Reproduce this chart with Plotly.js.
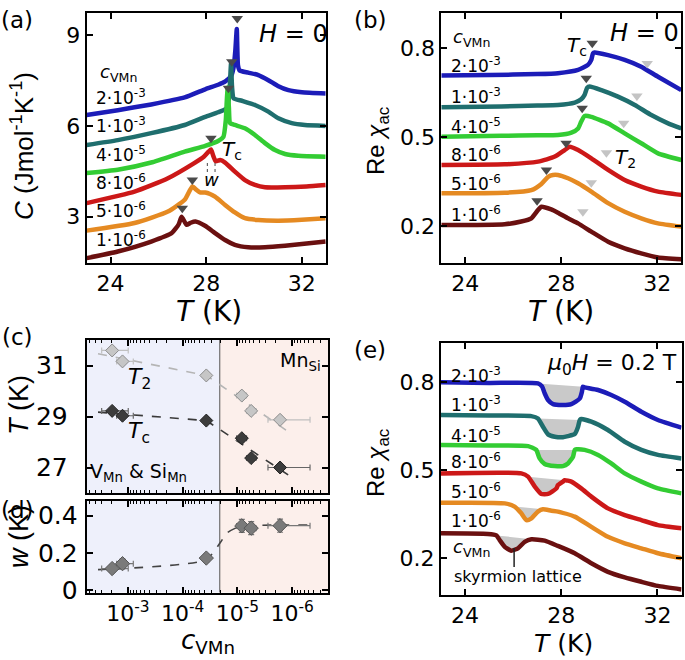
<!DOCTYPE html>
<html><head><meta charset="utf-8">
<script src="https://cdn.plot.ly/plotly-3.0.1.min.js"></script>
<style>html,body{margin:0;padding:0;background:#fff}#plot{width:685px;height:660px}</style>
</head><body><div id="plot"></div><script>
const FONT = 'DejaVu Sans, Liberation Sans, Arial, sans-serif';
const FONTR = 'Liberation Sans, Arial, Helvetica, sans-serif';

// ---------- series meta ----------
const seriesLabels = ['2·10<sup>-3</sup>','1·10<sup>-3</sup>','4·10<sup>-5</sup>','8·10<sup>-6</sup>','5·10<sup>-6</sup>','1·10<sup>-6</sup>'];
const seriesColors = ['#1c1cb8','#1f6e6e','#33cc33','#cc1818','#e58a22','#6a1010'];

// ---------- panel (a): specific heat C (J/mol K), H = 0 ----------
const aT0 = [23.0,24.3,25.7,27.1,27.96,28.5,28.8,29.05,29.15,29.22,29.28,29.33,29.4,29.76,30.18,30.6,31.0,31.44,32.0,33.0];
const aC0 = [6.36,6.52,6.71,6.94,7.21,7.36,7.47,7.66,7.95,8.5,9.2,8.0,7.83,7.76,7.68,7.51,7.32,7.18,7.11,7.07];
const aT1 = [23.0,24.3,25.7,27.1,27.96,28.5,28.85,28.95,29.0,29.04,29.08,29.15,29.49,30.04,30.6,31.02,31.58,32.13,33.0];
const aC1 = [5.37,5.53,5.76,6.03,6.30,6.45,6.58,6.9,7.5,8.07,7.3,6.91,6.83,6.69,6.47,6.25,6.09,6.03,6.0];
const aT2 = [23.0,24.3,25.7,27.1,27.96,28.5,28.72,28.82,28.86,28.9,28.95,29.0,29.2,29.62,30.04,30.46,30.88,31.3,31.85,33.0];
const aC2 = [4.44,4.55,4.79,5.15,5.34,5.5,5.64,6.19,6.8,7.27,6.6,6.09,6.03,5.92,5.70,5.43,5.20,5.07,5.01,4.98];
const aT3 = [23.0,25.0,26.4,27.5,27.9,28.1,28.2,28.3,28.4,28.58,28.79,29.2,29.62,30.04,30.46,31.3,32.2,33.0];
const aC3 = [3.45,3.83,4.27,4.77,4.98,5.15,5.22,5.0,4.83,4.87,4.79,4.49,4.21,4.05,3.97,3.97,4.0,4.05];
const aT4 = [23.0,25.0,26.4,27.1,27.42,27.6,27.74,27.96,28.16,28.37,28.79,29.2,29.62,30.18,31.02,32.0,33.0];
const aC4 = [2.54,2.79,3.17,3.56,4.0,3.88,3.80,3.80,3.75,3.66,3.39,3.14,2.95,2.89,2.87,2.9,2.95];
const aT5 = [23.0,24.3,25.7,26.56,26.85,26.97,27.18,27.35,27.55,27.95,28.37,28.79,29.2,29.76,30.46,31.3,33.0];
const aC5 = [1.63,1.85,2.18,2.46,2.75,3.0,2.73,2.8,2.84,2.7,2.46,2.23,2.07,1.99,1.99,2.04,2.18];
const aTcT = [29.3,29.07,28.93,28.2,27.42,27.0];
const aTcY = [9.55,8.12,7.24,5.59,4.21,3.28];
const wMarkT = [28.05,28.37];
const wMarkC = [4.48,4.87];

// ---------- panel (b): Re chi_ac, H = 0 ----------
const bT0 = [23.0,25.0,27.0,27.86,28.7,29.11,29.25,29.32,29.39,29.95,30.64,31.33,32.03,33.0];
const bX0 = [0.707,0.709,0.712,0.715,0.726,0.743,0.760,0.782,0.785,0.776,0.760,0.737,0.703,0.658];
const bT1 = [23.0,25.5,27.0,27.86,28.56,28.83,28.97,29.08,29.18,29.67,30.36,31.06,31.75,32.45,33.0];
const bX1 = [0.600,0.603,0.606,0.608,0.616,0.627,0.642,0.666,0.670,0.658,0.636,0.608,0.574,0.546,0.529];
const bT2 = [23.0,25.5,27.0,27.86,28.42,28.7,28.83,28.97,29.25,29.95,30.64,31.33,32.03,33.0];
const bX2 = [0.501,0.504,0.506,0.507,0.515,0.529,0.552,0.571,0.568,0.546,0.512,0.479,0.445,0.4225];
const bT3 = [23.0,25.64,27.03,27.73,28.14,28.35,28.7,29.25,29.95,30.64,31.33,32.03,33.0];
const bX3 = [0.406,0.408,0.417,0.434,0.456,0.467,0.456,0.428,0.389,0.355,0.333,0.316,0.305];
const bT4 = [23.0,25.64,26.75,27.17,27.45,27.65,27.86,28.28,28.7,29.25,29.95,30.64,31.33,32.03,33.0];
const bX4 = [0.310,0.312,0.321,0.342,0.366,0.372,0.372,0.361,0.344,0.316,0.277,0.248,0.226,0.209,0.198];
const bT5 = [23.0,25.64,26.33,26.75,27.03,27.17,27.58,27.86,28.28,28.7,29.25,29.95,30.64,31.33,32.03,33.0];
const bX5 = [0.203,0.206,0.215,0.226,0.254,0.265,0.256,0.245,0.226,0.209,0.181,0.147,0.125,0.108,0.094,0.088];
const bTcT = [29.29,29.04,28.87,28.2,27.38,26.99];
const bTcY = [0.816,0.698,0.597,0.479,0.389,0.285];
const bT2T = [31.58,31.15,30.6,29.88,29.25,28.9];
const bT2Y = [0.748,0.638,0.546,0.447,0.346,0.248];

// ---------- panel (e): Re chi_ac, mu0H = 0.2 T ----------
const eT0 = [23.0,25.0,27.03,27.2,27.31,27.45,27.66,28.07,28.42,28.77,28.86,28.9,28.97,29.53,30.08,30.64,31.33,32.02,33.0];
const eX0 = [0.799,0.797,0.7955,0.785,0.762,0.739,0.725,0.722,0.725,0.744,0.767,0.784,0.782,0.773,0.756,0.733,0.699,0.671,0.645];
const eT1 = [23.0,25.0,26.75,27.03,27.24,27.45,27.73,28.07,28.28,28.56,28.7,28.77,28.83,29.25,29.94,30.64,31.33,32.02,33.0];
const eX1 = [0.688,0.686,0.684,0.676,0.648,0.622,0.614,0.612,0.616,0.623,0.648,0.671,0.674,0.665,0.637,0.597,0.569,0.552,0.540];
const eT2 = [23.0,25.0,26.62,26.96,27.1,27.31,27.73,28.07,28.28,28.49,28.56,28.63,28.97,29.53,30.08,30.64,31.33,32.02,33.0];
const eX2 = [0.586,0.584,0.582,0.569,0.540,0.521,0.514,0.514,0.523,0.546,0.569,0.571,0.569,0.552,0.523,0.489,0.461,0.438,0.421];
const eT3 = [23.0,26.34,26.62,26.9,27.17,27.45,27.8,27.86,28.07,28.14,28.42,28.83,29.25,29.94,30.64,31.33,32.02,33.0];
const eX3 = [0.489,0.489,0.478,0.444,0.419,0.419,0.438,0.449,0.461,0.466,0.461,0.438,0.410,0.370,0.347,0.330,0.313,0.302];
const eT4 = [23.0,25.65,26.06,26.34,26.55,26.76,27.03,27.24,27.59,27.86,28.56,29.25,29.94,30.64,31.33,32.02,33.0];
const eX4 = [0.389,0.387,0.376,0.353,0.330,0.336,0.359,0.367,0.362,0.359,0.342,0.307,0.273,0.251,0.234,0.217,0.200];
const eT5 = [23.0,24.95,25.3,25.44,25.65,25.92,26.2,26.48,26.76,27.31,27.86,28.56,29.25,29.94,30.64,31.33,32.02,33.0];
const eX5 = [0.285,0.283,0.278,0.262,0.239,0.226,0.234,0.256,0.265,0.260,0.242,0.217,0.183,0.154,0.135,0.120,0.106,0.094];
const eFillFrom = [27.03,27.03,26.96,26.62,26.06,25.3];
const eFillTo   = [28.9,28.77,28.56,28.14,27.24,26.76];
const skxMarkT = [26.04,26.04];
const skxMarkX = [0.170,0.235];

// ---------- panels (c),(d): vs c_VMn ----------
const cVMn   = [1.95e-3,1.26e-3,3.7e-5,8.3e-6,5.6e-6,1.66e-6];
const cErrP  = [1.08e-3,0.35e-3,0,2.0e-6,1.16e-6,1.1e-6];
const cErrM  = [0.96e-3,0.46e-3,0,1.5e-6,1.03e-6,1.19e-6];
const T2vals = [31.59,31.16,30.61,29.82,29.22,28.87];
const Tcvals = [29.22,29.03,28.84,28.15,27.37,27.0];
const wVals  = [0.117,0.143,0.173,0.345,0.333,0.346];
const wErr   = [0.02,0.025,0.02,0.035,0.035,0.035];
const fitC   = [3.53e-3,3.7e-5,1.18e-6];
const fitT2  = [31.46,30.61,28.41];
const fitTc  = [29.17,28.84,26.71];
const wFitC  = [3.53e-3,3.75e-5,2.08e-5,1.57e-5,1.03e-5,7.9e-6,4.7e-7];
const wFitW  = [0.111,0.164,0.253,0.306,0.336,0.345,0.350];
const cBoundary = 2.1e-5;

// ---------- build ----------
const traces = [];
function curve(T, Y, color, xa, ya) {
  traces.push({x:T, y:Y, xaxis:xa, yaxis:ya, type:'scatter', mode:'lines',
    line:{color:color, width:4.5, shape:'spline', smoothing:0.5}, hoverinfo:'skip'});
}
function tri(T, Y, color, xa, ya) {
  traces.push({x:T, y:Y, xaxis:xa, yaxis:ya, type:'scatter', mode:'markers',
    marker:{symbol:'triangle-down', size:10, color:color, line:{width:0}}, hoverinfo:'skip'});
}

// panel (c)/(d) backgrounds
const bgLeft = 1e-2, bgRight = 1e-7;
[['x3','y3',25,33],['x4','y4',-0.1,0.6]].forEach(([xa,ya,lo,hi])=>{
  traces.push({x:[bgLeft,cBoundary,cBoundary,bgLeft], y:[lo,lo,hi,hi], xaxis:xa, yaxis:ya, mode:'lines',
    fill:'toself', fillcolor:'#eef0fb', line:{width:0}, hoverinfo:'skip'});
  traces.push({x:[cBoundary,bgRight,bgRight,cBoundary], y:[lo,lo,hi,hi], xaxis:xa, yaxis:ya, mode:'lines',
    fill:'toself', fillcolor:'#fcefeb', line:{width:0}, hoverinfo:'skip'});
  traces.push({x:[cBoundary,cBoundary], y:[lo,hi], xaxis:xa, yaxis:ya, mode:'lines',
    line:{color:'#555', width:1}, hoverinfo:'skip'});
});

// (a)
const aTs=[aT0,aT1,aT2,aT3,aT4,aT5], aCs=[aC0,aC1,aC2,aC3,aC4,aC5];
aTs.forEach((T,i)=>curve(T,aCs[i],seriesColors[i],'x','y'));
tri(aTcT,aTcY,'#4a4a4a','x','y');
wMarkT.forEach(t=>traces.push({x:[t,t],y:wMarkC,xaxis:'x',yaxis:'y',mode:'lines',line:{color:'#666',width:1.2,dash:'dot'},hoverinfo:'skip'}));

// (b)
const bTs=[bT0,bT1,bT2,bT3,bT4,bT5], bXs=[bX0,bX1,bX2,bX3,bX4,bX5];
bTs.forEach((T,i)=>curve(T,bXs[i],seriesColors[i],'x2','y2'));
tri(bTcT,bTcY,'#4a4a4a','x2','y2');
tri(bT2T,bT2Y,'#c4c4c4','x2','y2');

// (e)
const eTs=[eT0,eT1,eT2,eT3,eT4,eT5], eXs=[eX0,eX1,eX2,eX3,eX4,eX5];
eTs.forEach((T,i)=>{
  const fx=[], fy=[];
  T.forEach((t,j)=>{ if(t>=eFillFrom[i]-1e-9 && t<=eFillTo[i]+1e-9){fx.push(t);fy.push(eXs[i][j]);} });
  traces.push({x:fx,y:fy,xaxis:'x5',yaxis:'y5',mode:'lines',fill:'toself',fillcolor:'#c9c9c9',
    line:{width:0,shape:'spline',smoothing:0.5},hoverinfo:'skip'});
});
eTs.forEach((T,i)=>curve(T,eXs[i],seriesColors[i],'x5','y5'));
traces.push({x:skxMarkT,y:skxMarkX,xaxis:'x5',yaxis:'y5',mode:'lines',line:{color:'#222',width:1.5},hoverinfo:'skip'});

// (c)
traces.push({x:fitC,y:fitT2,xaxis:'x3',yaxis:'y3',mode:'lines',line:{color:'#b5b5b5',width:1.6,dash:'dash'},hoverinfo:'skip'});
traces.push({x:fitC,y:fitTc,xaxis:'x3',yaxis:'y3',mode:'lines',line:{color:'#3a3a3a',width:1.6,dash:'dash'},hoverinfo:'skip'});
traces.push({x:cVMn,y:T2vals,xaxis:'x3',yaxis:'y3',mode:'markers',
  marker:{symbol:'diamond',size:10,color:'#c6c6c6',line:{color:'#8c8c8c',width:1}},
  error_x:{type:'data',array:cErrP,arrayminus:cErrM,color:'#c0c0c0',thickness:1.2,width:3},hoverinfo:'skip'});
traces.push({x:cVMn,y:Tcvals,xaxis:'x3',yaxis:'y3',mode:'markers',
  marker:{symbol:'diamond',size:10,color:'#3c3c3c',line:{color:'#222',width:1}},
  error_x:{type:'data',array:cErrP,arrayminus:cErrM,color:'#666',thickness:1.2,width:3},hoverinfo:'skip'});
// (d)
traces.push({x:wFitC,y:wFitW,xaxis:'x4',yaxis:'y4',mode:'lines',line:{color:'#444',width:1.6,dash:'dash',shape:'spline',smoothing:0.6},hoverinfo:'skip'});
traces.push({x:cVMn,y:wVals,xaxis:'x4',yaxis:'y4',mode:'markers',
  marker:{symbol:'diamond',size:11,color:'#7a7a7a',line:{color:'#555',width:1}},
  error_x:{type:'data',array:cErrP,arrayminus:cErrM,color:'#777',thickness:1.2,width:3},
  error_y:{type:'data',array:wErr,color:'#777',thickness:1.2,width:3},hoverinfo:'skip'});

// ---------- axes ----------
const W=685,H=660;
const dx=(a,b)=>[a/W,b/W], dy=(top,bot)=>[1-bot/H,1-top/H];
function ax(extra){
  return Object.assign({showline:true,linecolor:'black',linewidth:2,mirror:'ticks',ticks:'inside',
    ticklen:6,tickwidth:2,tickcolor:'black',showgrid:false,zeroline:false,
    tickfont:{family:FONT,size:22,color:'black'}},extra);
}
const minorVals=[];
for(let k=-7;k<=-2;k++) for(let d=2;d<=9;d++) minorVals.push(d*Math.pow(10,k));
const logX = {type:'log',range:[-2.245,-6.662],tickmode:'array',tickvals:[1e-3,1e-4,1e-5,1e-6],
  ticktext:['10<sup>-3</sup>','10<sup>-4</sup>','10<sup>-5</sup>','10<sup>-6</sup>'],
  minor:{tickmode:'array',tickvals:minorVals,ticks:'inside',ticklen:3,tickwidth:1,tickcolor:'black'}};
const bigTick={family:FONT,size:25,color:'black'};

const layout={
  width:W,height:H,margin:{l:0,r:0,t:0,b:0},paper_bgcolor:'white',plot_bgcolor:'rgba(0,0,0,0)',
  showlegend:false,font:{family:FONT,color:'black'},
  xaxis: ax({domain:dx(86.7,325.7),anchor:'y',range:[23,33],tickvals:[24,28,32],ticklabelstandoff:0}),
  yaxis: ax({domain:dy(12.7,263),anchor:'x',range:[1.47,9.74],tickvals:[3,6,9]}),
  xaxis2:ax({domain:dx(441.3,681.3),anchor:'y2',range:[23,33],tickvals:[24,28,32],ticklabelstandoff:0}),
  yaxis2:ax({domain:dy(12.7,263),anchor:'x2',range:[0.0753,0.919],tickvals:[0.2,0.5,0.8]}),
  xaxis3:ax(Object.assign({},logX,{domain:dx(86.7,328.3),anchor:'y3',showticklabels:false})),
  yaxis3:ax({domain:dy(340,493),anchor:'x3',range:[26,32],tickvals:[27,29,31],tickfont:bigTick,ticklabelstandoff:12}),
  xaxis4:ax(Object.assign({},logX,{domain:dx(86.7,328.3),anchor:'y4',ticklabelstandoff:0,
    tickfont:{family:FONT,size:22,color:'black'}})),
  yaxis4:ax({domain:dy(501,592.5),anchor:'x4',range:[-0.011,0.478],tickvals:[0,0.2,0.4],tickfont:bigTick,ticklabelstandoff:2}),
  xaxis5:ax({domain:dx(441,681.5),anchor:'y5',range:[23,33],tickvals:[24,28,32],ticklabelstandoff:0}),
  yaxis5:ax({domain:dy(343.3,595),anchor:'x5',range:[0.075,0.932],tickvals:[0.2,0.5,0.8]}),
  annotations:[]
};

function ann(text,px,py,size,opts,fam){
  layout.annotations.push(Object.assign({xref:'paper',yref:'paper',x:px/W,y:1-py/H,text:text,showarrow:false,
    font:{family:fam||FONT,size:size,color:'black'},xanchor:'center',yanchor:'middle'},opts||{}));
}
// panel labels
ann('(a)',17,20,23); ann('(b)',370,20,23); ann('(c)',17,337,23); ann('(d)',17,510,23); ann('(e)',370,350,23);
// axis titles
ann('<i>C</i> (Jmol<sup>-1</sup>K<sup>-1</sup>)',22,146,26,{textangle:-90},FONTR);
ann('<i>T</i> (K)',209,311,28);
ann('Re <i>χ</i><sub>ac</sub>',377,141,24,{textangle:-90},FONTR);
ann('<i>T</i> (K)',561,311,28);
ann('<i>T</i> (K)',19,405,27,{textangle:-90},FONTR);
ann('<i>w</i> (K)',19,537,27,{textangle:-90},FONTR);
ann('<i>c</i><sub>VMn</sub>',208,641,26);
ann('Re <i>χ</i><sub>ac</sub>',377,463,24,{textangle:-90},FONTR);
ann('<i>T</i> (K)',563,643,25);
// (a) texts
ann('<i>H</i> = 0',293,34,24);
ann('<i>c</i><sub>VMn</sub>',118,73,18);
const aLabY=[97,125,154,182,210,239];
seriesLabels.forEach((s,i)=>ann(s,121,aLabY[i],17));
ann('<i>T</i><sub>c</sub>',232,150,20);
ann('<i>w</i>',211,179,18);
// (b) texts
ann('<i>H</i> = 0',644,33,24);
ann('<i>c</i><sub>VMn</sub>',471,38,18);
const bLabY=[65,96,126,154,183,214];
seriesLabels.forEach((s,i)=>ann(s,476,bLabY[i],17));
ann('<i>T</i><sub>c</sub>',577,46,20);
ann('<i>T</i><sub>2</sub>',625,158,20);
// (e) texts
ann('<i>μ</i><sub>0</sub><i>H</i> = 0.2 T',612,365,22);
const eLabY=[375,404,435,461,491,520];
seriesLabels.forEach((s,i)=>ann(s,476,eLabY[i],17));
ann('<i>c</i><sub>VMn</sub>',471,548,18);
ann('skyrmion lattice',518,576,16);
// (c) texts
ann('<i>T</i><sub>2</sub>',139,378,22);
ann('<i>T</i><sub>c</sub>',139,433,22);
ann('V<sub>Mn</sub> &amp; Si<sub>Mn</sub>',88,472,19,{xanchor:'left'});
ann('Mn<sub>Si</sub>',323,361,19,{xanchor:'right'});

Plotly.newPlot('plot',traces,layout,{staticPlot:true,displayModeBar:false});
</script></body></html>
